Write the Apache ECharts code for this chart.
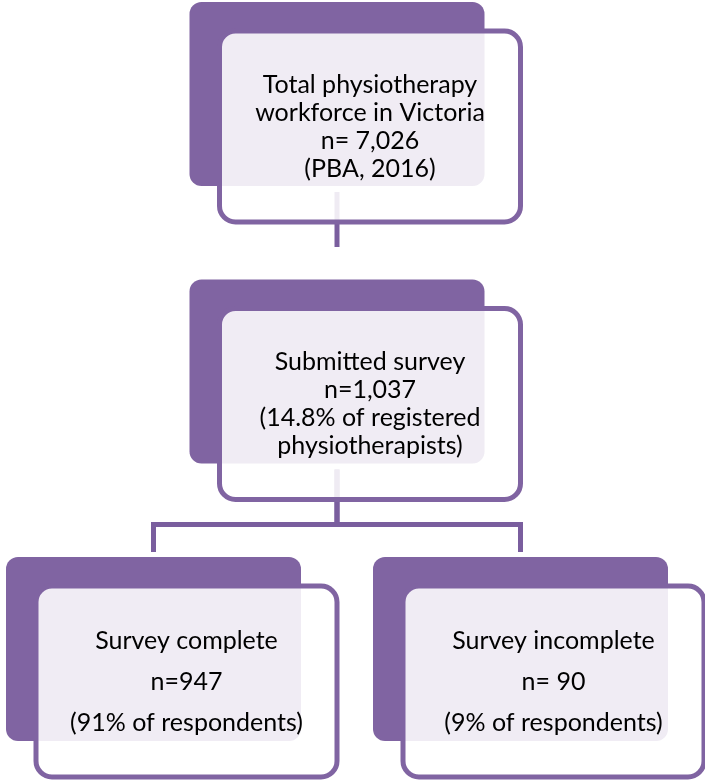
<!DOCTYPE html>
<html>
<head>
<meta charset="utf-8">
<script src="https://cdn.jsdelivr.net/npm/echarts@6/dist/echarts.min.js"></script>
<style>
  html, body { margin: 0; padding: 0; background: #fff; }
  #chart { width: 705px; height: 781px; }
</style>
</head>
<body>
<div id="chart"></div>
<script>
// flow diagram data: one entry per box
const nodeTitle = ['Total physiotherapy\nworkforce in Victoria', 'Submitted survey', 'Survey complete', 'Survey incomplete'];
const nodeCount = [7026, 1037, 947, 90];
const countSpace = [' ', '', '', ' '];
const nodeNote = ['(PBA, 2016)', '(14.8% of registered\nphysiotherapists)', '(91% of respondents)', '(9% of respondents)'];
// tree structure: level (row) and side (column), parent index
const nodeLevel = [0, 1, 2, 2];
const nodeSide = [0, 0, -1, 1];
const nodeParent = [-1, 0, 1, 1];

const PURPLE = '#8064A2';
const LINE = '#7A5E9E';
// box geometry, relative to the anchor (back box centre x, back box top y)
const back = { x: -147.5, y: 0, w: 295, h: 184, r: 12 };
const front = { x: -117.5, y: 29, w: 301, h: 191, r: 16, lw: 5 };

function childCount(i) {
  return nodeParent.filter(p => p === i).length;
}
function label(i) {
  return nodeTitle[i] + '\n' + 'n=' + countSpace[i] + nodeCount[i].toLocaleString('en-US') + '\n' + nodeNote[i];
}

const nodeData = nodeTitle.map((t, i) => [nodeSide[i], nodeLevel[i], i]);
const edgeData = [];
nodeParent.forEach((p, i) => {
  if (p >= 0) edgeData.push([nodeSide[i], nodeLevel[i], nodeSide[p], nodeLevel[p], p]);
});

const myChart = echarts.init(document.getElementById('chart'));

const option = {
  animation: false,
  grid: { left: 153.5, right: 184.5, top: 2, bottom: 224 },
  xAxis: { type: 'value', min: -1, max: 1, show: false },
  yAxis: { type: 'value', min: 0, max: 2, inverse: true, show: false },
  series: [
    {
      // connectors
      type: 'custom',
      z: 1,
      silent: true,
      data: edgeData,
      renderItem: function (params, api) {
        const c = api.coord([api.value(0), api.value(1)]);
        const p = api.coord([api.value(2), api.value(3)]);
        const elbow = p[1] + 245;
        const pts = [[p[0], p[1] + 190], [p[0], elbow]];
        if (childCount(api.value(4)) > 1) {
          pts.push([c[0], elbow], [c[0], c[1] - 5]);
        }
        return {
          type: 'polyline',
          shape: { points: pts },
          style: { stroke: LINE, lineWidth: 5, fill: null, lineJoin: 'miter' }
        };
      }
    },
    {
      // boxes
      type: 'custom',
      z: 2,
      silent: true,
      data: nodeData,
      renderItem: function (params, api) {
        const a = api.coord([api.value(0), api.value(1)]);
        const i = api.value(2);
        const big = nodeLevel[i] === 2;
        return {
          type: 'group',
          children: [
            {
              type: 'rect',
              z2: 1,
              shape: { x: a[0] + back.x, y: a[1] + back.y, width: back.w, height: back.h, r: back.r },
              style: { fill: PURPLE }
            },
            {
              type: 'rect',
              z2: 2,
              shape: { x: a[0] + front.x, y: a[1] + front.y, width: front.w, height: front.h, r: front.r },
              style: { fill: 'rgba(255,255,255,0.88)', stroke: PURPLE, lineWidth: front.lw }
            },
            {
              type: 'text',
              z2: 3,
              x: a[0] + front.x + front.w / 2,
              y: a[1] + front.y + front.h / 2,
              style: {
                text: label(i),
                fill: '#000',
                font: '25px Lato',
                align: 'center',
                verticalAlign: 'middle',
                lineHeight: big ? 41 : 28
              }
            }
          ]
        };
      }
    }
  ]
};

myChart.setOption(option);
</script>
</body>
</html>
